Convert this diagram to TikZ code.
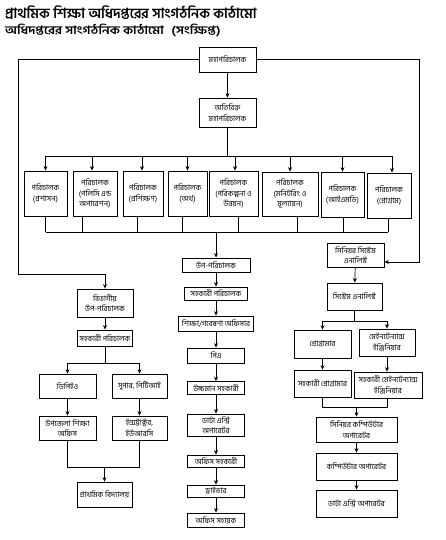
\documentclass[tikz,border=0pt]{standalone}
\usepackage{fontspec}
\newfontfamily\bn[Script=Bengali]{Hind Siliguri}
\usetikzlibrary{arrows.meta}
\begin{document}
\begin{tikzpicture}[x=1pt,y=-1pt,
  box/.style={draw, line width=0.8pt, align=center, inner sep=0.5pt,
    font=\bn\fontsize{7.6}{10.5}\selectfont},
  conn/.style={line width=0.7pt},
  arr/.style={line width=0.7pt,-{Stealth[length=4.5pt,width=4pt]}}]
\useasboundingbox (0,0) rectangle (445,540);
% titles
\node[anchor=base west, inner sep=0, font=\bn\bfseries\fontsize{14}{16}\selectfont] (t1) at (5,19) {প্রাথমিক শিক্ষা অধিদপ্তরের সাংগঠনিক কাঠামো};
\node[anchor=base west, inner sep=0, font=\bn\bfseries\fontsize{11.5}{13}\selectfont] (t2) at (5,35) {\scalebox{1.15}[1]{অধিদপ্তরের সাংগঠনিক কাঠামো\hspace{4pt} (সংক্ষিপ্ত)}};
% top
\node[box, minimum width=57pt, minimum height=25pt] (dg) at (227.5,59.5) {মহাপরিচালক};
\node[box, minimum width=57pt, minimum height=29pt] (adg) at (227.5,112.5) {অতিরিক্ত\\মহাপরিচালক};
% directors
\node[box, minimum width=43pt, minimum height=45pt] (d1) at (45.5,193.5) {পরিচালক\\(প্রশাসন)};
\node[box, minimum width=44pt, minimum height=45pt] (d2) at (95,193.5) {পরিচালক\\(পলিসি এন্ড\\অপারেশন)};
\node[box, minimum width=40pt, minimum height=45pt] (d3) at (143,193.5) {পরিচালক\\(প্রশিক্ষণ)};
\node[box, minimum width=39pt, minimum height=45pt] (d4) at (187.5,193.5) {পরিচালক\\(অর্থ)};
\node[box, minimum width=49pt, minimum height=45pt] (d5) at (233.5,193.5) {পরিচালক\\(পরিকল্পনা ও\\উন্নয়ন)};
\node[box, minimum width=56pt, minimum height=44pt] (d6) at (290,194) {পরিচালক\\(মনিটরিং ও\\মূল্যায়ন)};
\node[box, minimum width=43pt, minimum height=45pt] (d7) at (342.5,194.5) {পরিচালক\\(আইএমডি)};
\node[box, minimum width=44pt, minimum height=45pt] (d8) at (389,195.5) {পরিচালক\\(প্রোগ্রাম)};
% middle chain
\node[box, minimum width=68pt, minimum height=14pt] (up) at (216,265) {উপ-পরিচালক};
\node[box, minimum width=63pt, minimum height=13pt] (ad2) at (216,293.5) {সহকারী পরিচালক};
\node[box, minimum width=75pt, minimum height=15pt] (ero) at (216,323.5) {শিক্ষা/গবেষণা অফিসার};
\node[box, minimum width=57pt, minimum height=15pt] (pa) at (216,355.5) {পিএ};
\node[box, minimum width=57pt, minimum height=13pt] (uc) at (216,388) {উচ্চমান সহকারী};
\node[box, minimum width=57pt, minimum height=22pt] (de) at (216,425) {ডাটা এন্ট্রি\\অপারেটর};
\node[box, minimum width=57pt, minimum height=12pt] (oa) at (216,461) {অফিস সহকারী};
\node[box, minimum width=57pt, minimum height=12pt] (dr) at (216,491) {ড্রাইভার};
\node[box, minimum width=57pt, minimum height=14pt] (os) at (216,520) {অফিস সহায়ক};
% left branch
\node[box, minimum width=56pt, minimum height=28pt] (div) at (105,303) {বিভাগীয়\\উপ-পরিচালক};
\node[box, minimum width=55pt, minimum height=16pt] (ad1) at (105,338) {সহকারী পরিচালক};
\node[box, minimum width=57pt, minimum height=24pt] (dpeo) at (67.5,386) {ডিপিইও};
\node[box, minimum width=55pt, minimum height=24pt] (sup) at (139.5,386) {সুপার, পিটিআই};
\node[box, minimum width=57pt, minimum height=24pt] (ueo) at (67.5,428) {উপজেলা শিক্ষা\\অফিস};
\node[box, minimum width=55pt, minimum height=24pt] (inst) at (139.5,428) {ইন্সট্রাক্টর,\\ইউআরসি};
\node[box, minimum width=55pt, minimum height=25pt] (ps) at (104.5,494.5) {প্রাথমিক বিদ্যালয়};
% right branch
\node[box, minimum width=57pt, minimum height=24pt] (ssa) at (355.5,255) {সিনিয়র সিস্টেম\\এনালিস্ট};
\node[box, minimum width=55pt, minimum height=27pt] (sa) at (354.5,296.5) {সিস্টেম এনালিস্ট};
\node[box, minimum width=57pt, minimum height=28pt] (prog) at (322.5,344) {প্রোগ্রামার};
\node[box, minimum width=56pt, minimum height=27pt] (me) at (387,342.5) {মেইনটেন্যান্স\\ইঞ্জিনিয়ার};
\node[box, minimum width=57pt, minimum height=27pt] (ap) at (322.5,383.5) {সহকারী প্রোগ্রামার};
\node[box, minimum width=68pt, minimum height=26pt] (ame) at (388,385) {সহকারী মেইনটেন্যান্স\\ইঞ্জিনিয়ার};
\node[box, minimum width=81pt, minimum height=25pt] (sco) at (356.5,429.5) {সিনিয়র কম্পিউটার\\অপারেটর};
\node[box, minimum width=81pt, minimum height=27pt] (co) at (356.5,466.5) {কম্পিউটার অপারেটর};
\node[box, minimum width=81pt, minimum height=27pt] (deo) at (356.5,503.5) {ডাটা এন্ট্রি অপারেটর};
% helper coordinates
\coordinate (lc) at (18,274);
\coordinate (rc) at (419,262);
\coordinate (bt) at (0,156);
\coordinate (bb) at (0,232);
\coordinate (lb1) at (0,363);
\coordinate (lb2) at (0,467);
\coordinate (rb1) at (0,321);
\coordinate (rb2) at (0,407);
% top connectors
\draw[arr] (dg) -- (adg);
\draw[arr] (dg.west) -| (lc) -| (div.north);
\draw[arr] (dg.east) -| (rc) -- (rc -| ssa.east);
\draw[conn] (adg.south) -- (adg.south |- bt);
\draw[conn] (d1.north |- bt) -- ([xshift=3pt]d8.north |- bt);
\foreach \n/\s in {d1/0,d2/-3,d3/-1,d4/0,d5/1.5,d6/0,d7/0,d8/3}
  \draw[arr] ([xshift=\s pt]\n.north |- bt) -- ([xshift=\s pt]\n.north);
\foreach \n/\s in {d1/0,d2/-13,d3/-6,d4/-5.5,d5/4.5,d6/7,d7/0.5,d8/-1}
  \draw[conn] ([xshift=\s pt]\n.south) -- ([xshift=\s pt]\n.south |- bb);
\draw[conn] (d1.south |- bb) -- ([xshift=-1pt]d8.south |- bb);
\draw[arr] (up.north |- bb) -- (up.north);
% middle chain
\draw[arr] (up) -- (ad2);
\draw[arr] (ad2) -- (ero);
\draw[arr] (ero) -- (pa);
\draw[arr] (pa) -- (uc);
\draw[arr] (uc) -- (de);
\draw[arr] (de) -- (oa);
\draw[arr] (oa) -- (dr);
\draw[arr] (dr) -- (os);
% left branch
\draw[arr] (div) -- (ad1);
\draw[conn] (ad1.south) -- (ad1.south |- lb1);
\draw[conn] (dpeo.north |- lb1) -- (sup.north |- lb1);
\draw[arr] (dpeo.north |- lb1) -- (dpeo.north);
\draw[arr] (sup.north |- lb1) -- (sup.north);
\draw[arr] (dpeo) -- (ueo);
\draw[arr] (sup) -- (inst);
\draw[conn] (ueo.south) -- (ueo.south |- lb2) -- (inst.south |- lb2) -- (inst.south);
\draw[arr] (ps.north |- lb2) -- (ps.north);
% right branch
\draw[arr] (ssa) -- (sa);
\draw[conn] (sa.south) -- (sa.south |- rb1);
\draw[conn] (prog.north |- rb1) -- (me.north |- rb1);
\draw[arr] (prog.north |- rb1) -- (prog.north);
\draw[arr] (me.north |- rb1) -- (me.north);
\draw[arr] (prog) -- (ap);
\draw[arr] (me) -- (ame.north -| me);
\draw[conn] (ap.south) -- (ap.south |- rb2) -- ([xshift=-1pt]ame.south |- rb2) -- ([xshift=-1pt]ame.south);
\draw[arr] (sco.north |- rb2) -- (sco.north);
\draw[arr] (sco) -- (co);
\draw[arr] (co) -- (deo);
\end{tikzpicture}
\end{document}
